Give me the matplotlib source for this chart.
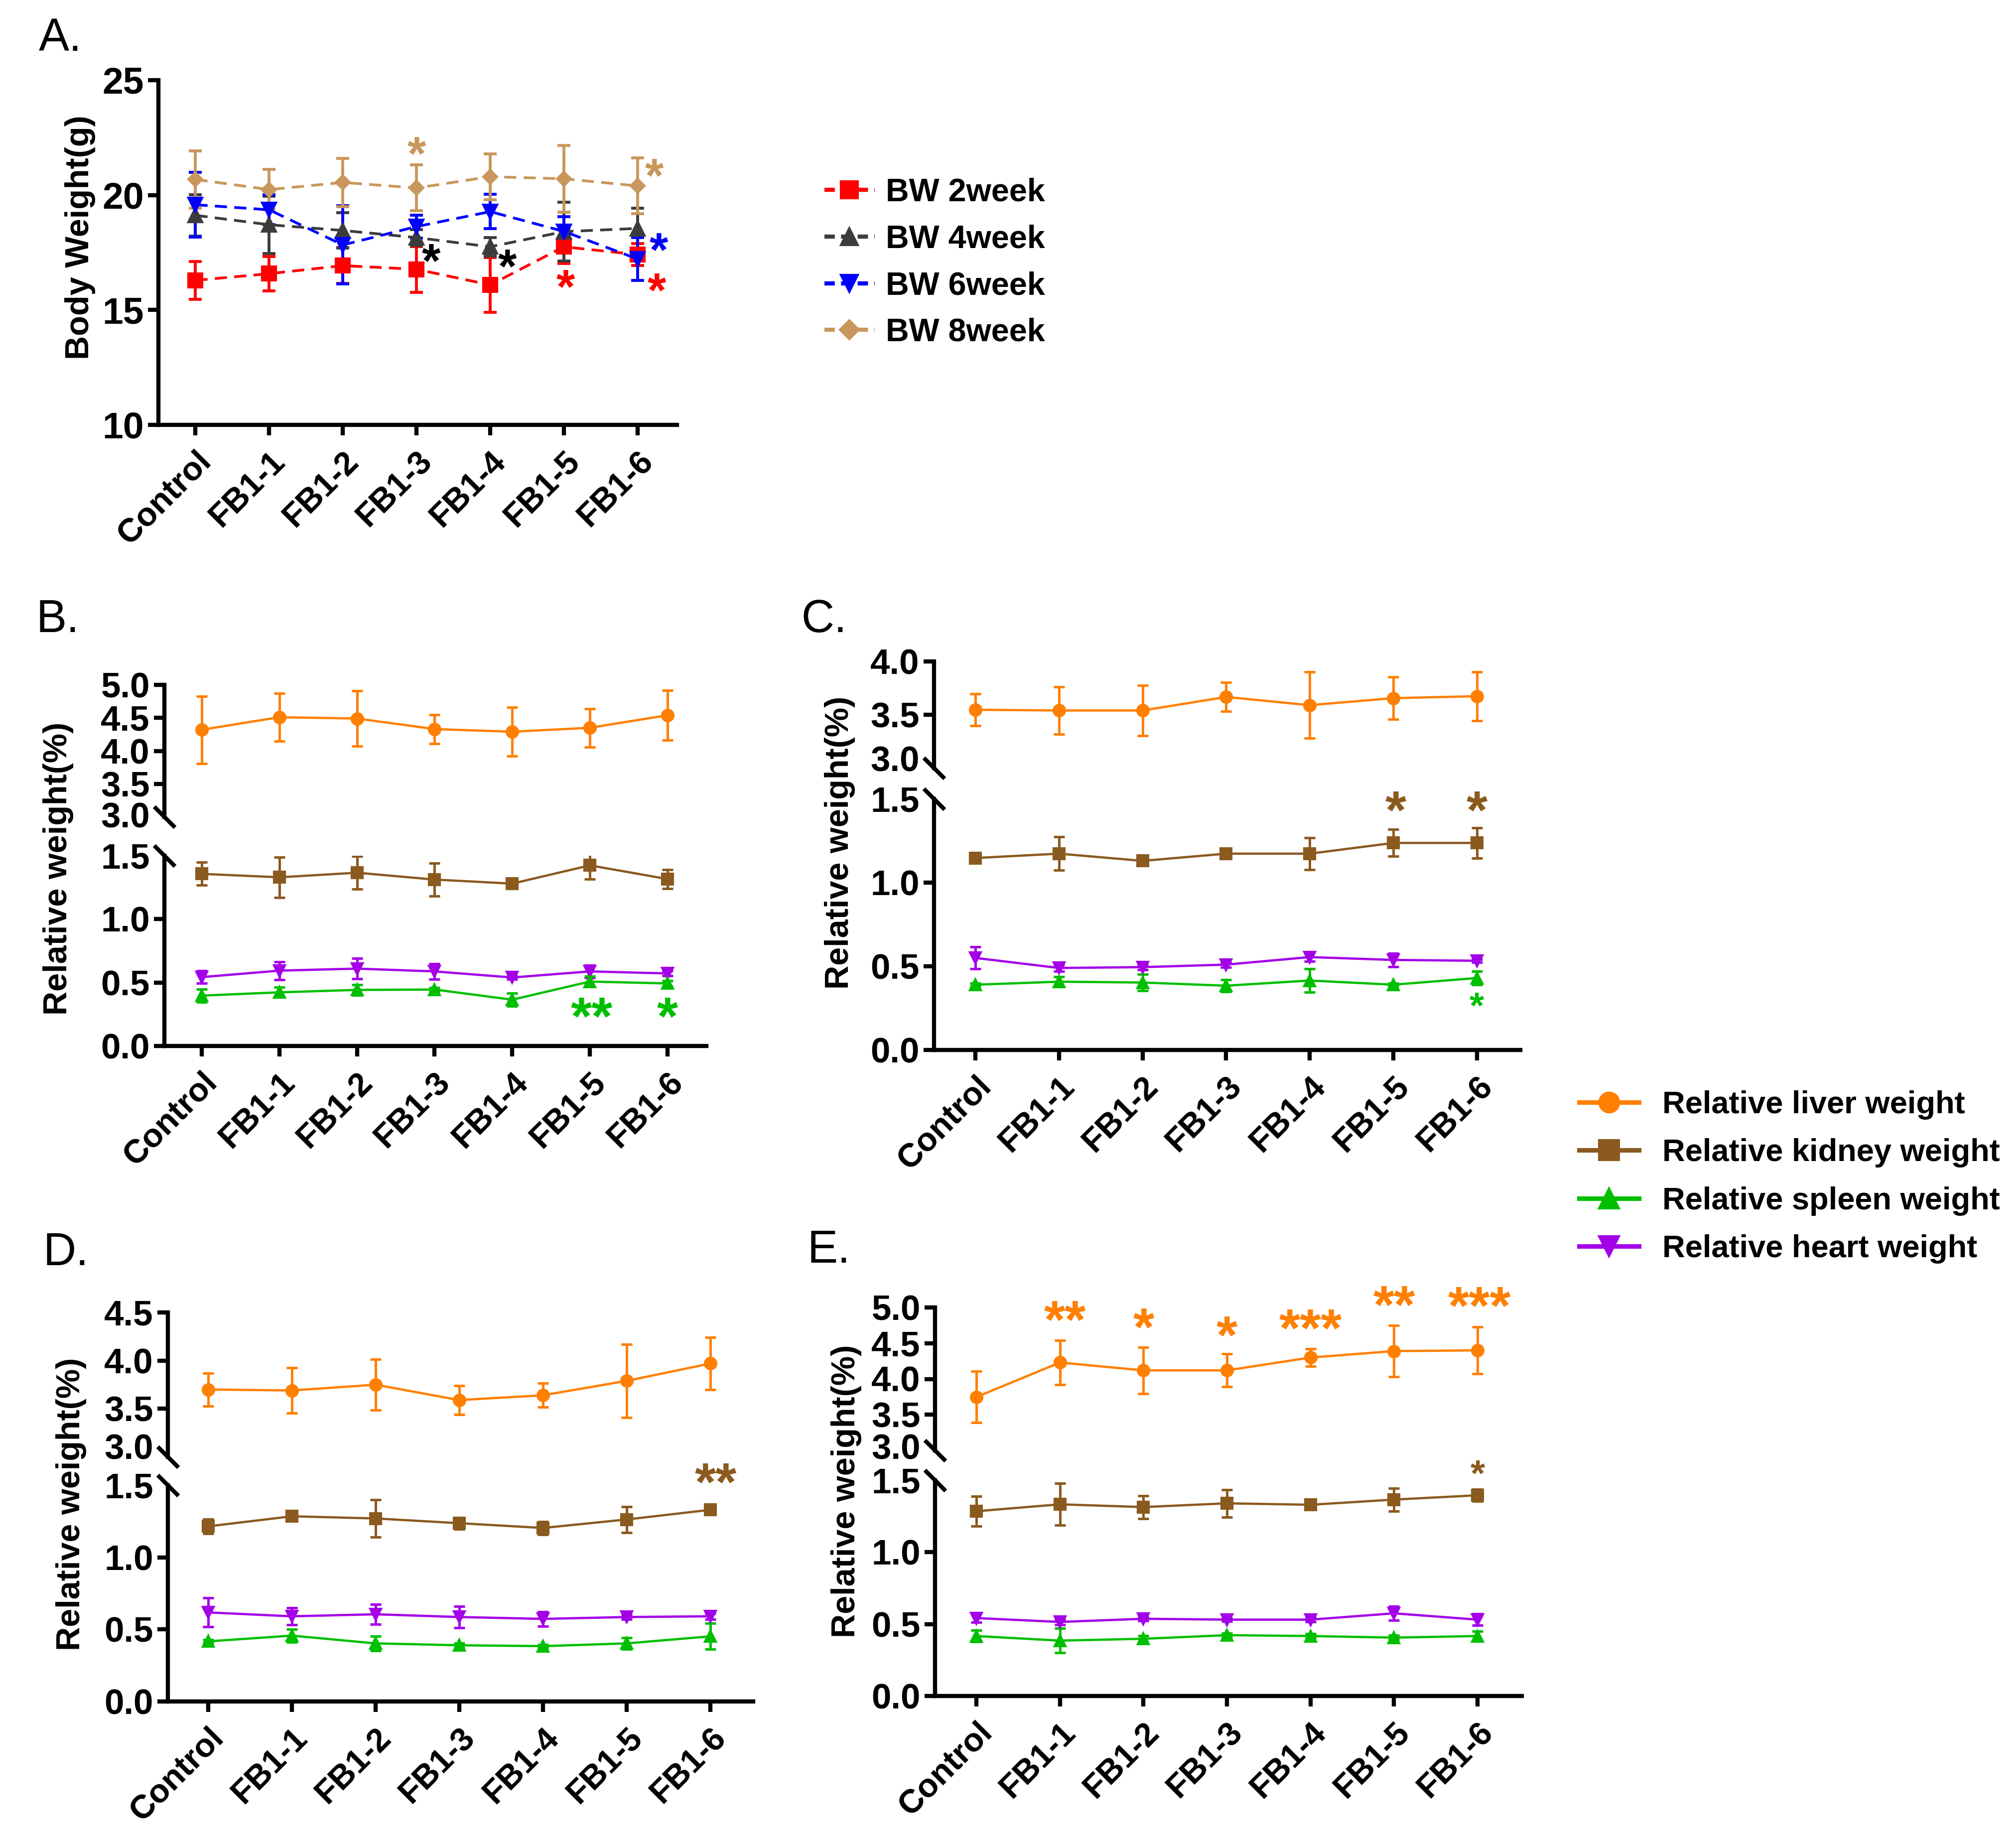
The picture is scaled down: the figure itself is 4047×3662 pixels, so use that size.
import matplotlib.pyplot as plt
from matplotlib.lines import Line2D
from matplotlib.transforms import ScaledTranslation

plt.rcParams['font.family'] = ['Liberation Sans', 'DejaVu Sans']
plt.rcParams['font.weight'] = 'bold'
plt.rcParams['axes.linewidth'] = 2.0

W, H, DPI = 4047, 3662, 300

groups = ['Control', 'FB1-1', 'FB1-2', 'FB1-3', 'FB1-4', 'FB1-5', 'FB1-6']

# A. body weight (g), mean and SEM
bw2 = [16.29, 16.58, 16.93, 16.77, 16.09, 17.75, 17.41]
bw2_err = [0.83, 0.75, 0.78, 1.0, 1.2, 0.72, 0.48]
bw4 = [19.12, 18.71, 18.46, 18.15, 17.75, 18.41, 18.55]
bw4_err = [0.9, 1.25, 0.77, 0.35, 0.4, 1.28, 0.88]
bw6 = [19.58, 19.36, 17.83, 18.63, 19.28, 18.42, 17.22]
bw6_err = [1.4, 0.65, 1.7, 0.5, 0.75, 0.65, 0.93]
bw8 = [20.68, 20.24, 20.55, 20.31, 20.8, 20.71, 20.4]
bw8_err = [1.25, 0.88, 1.05, 1.0, 1.0, 1.45, 1.22]

# B.
b_liver = [4.32, 4.51, 4.49, 4.33, 4.29, 4.35, 4.54]
b_liver_err = [0.51, 0.36, 0.42, 0.22, 0.37, 0.29, 0.38]
b_kidney = [1.357, 1.33, 1.366, 1.312, 1.28, 1.424, 1.316]
b_kidney_err = [0.09, 0.16, 0.13, 0.13, 0.04, 0.11, 0.075]
b_spleen = [0.397, 0.423, 0.442, 0.445, 0.365, 0.508, 0.493]
b_spleen_err = [0.05, 0.04, 0.04, 0.015, 0.05, 0.04, 0.02]
b_heart = [0.543, 0.594, 0.61, 0.588, 0.54, 0.588, 0.572]
b_heart_err = [0.05, 0.07, 0.08, 0.06, 0.015, 0.05, 0.02]

# C.
c_liver = [3.547, 3.54, 3.54, 3.667, 3.59, 3.656, 3.674]
c_liver_err = [0.15, 0.22, 0.235, 0.135, 0.31, 0.2, 0.23]
c_kidney = [1.147, 1.173, 1.13, 1.173, 1.173, 1.237, 1.237]
c_kidney_err = [0.015, 0.1, 0.02, 0.02, 0.095, 0.08, 0.09]
c_spleen = [0.39, 0.408, 0.403, 0.384, 0.415, 0.39, 0.43]
c_spleen_err = [0.01, 0.03, 0.05, 0.035, 0.07, 0.01, 0.04]
c_heart = [0.55, 0.49, 0.495, 0.51, 0.555, 0.538, 0.533]
c_heart_err = [0.065, 0.02, 0.015, 0.015, 0.025, 0.04, 0.01]

# D.
d_liver = [3.70, 3.69, 3.75, 3.59, 3.64, 3.79, 3.97]
d_liver_err = [0.17, 0.235, 0.265, 0.15, 0.125, 0.38, 0.27]
d_kidney = [1.215, 1.285, 1.27, 1.237, 1.204, 1.263, 1.33]
d_kidney_err = [0.05, 0.03, 0.13, 0.04, 0.045, 0.09, 0.02]
d_spleen = [0.417, 0.457, 0.403, 0.39, 0.384, 0.403, 0.452]
d_spleen_err = [0.01, 0.045, 0.05, 0.015, 0.01, 0.04, 0.09]
d_heart = [0.618, 0.591, 0.605, 0.586, 0.573, 0.586, 0.591]
d_heart_err = [0.1, 0.06, 0.07, 0.075, 0.05, 0.015, 0.02]

# E.
e_liver = [3.747, 4.23, 4.12, 4.12, 4.30, 4.39, 4.40]
e_liver_err = [0.36, 0.31, 0.325, 0.23, 0.125, 0.36, 0.33]
e_kidney = [1.285, 1.333, 1.314, 1.34, 1.33, 1.366, 1.396]
e_kidney_err = [0.105, 0.145, 0.08, 0.095, 0.02, 0.08, 0.04]
e_spleen = [0.417, 0.385, 0.398, 0.423, 0.417, 0.406, 0.417]
e_spleen_err = [0.04, 0.085, 0.02, 0.015, 0.015, 0.015, 0.035]
e_heart = [0.542, 0.515, 0.537, 0.531, 0.531, 0.575, 0.531]
e_heart_err = [0.03, 0.02, 0.015, 0.01, 0.015, 0.05, 0.04]

# significance marks: (group position, y, text)
a_stars_bw2 = [(5.02, 16.25, '*'), (6.26, 16.1, '*')]
a_stars_bw4 = [(3.2, 17.38, '*'), (4.23, 17.14, '*')]
a_stars_bw6 = [(6.29, 17.86, '*')]
a_stars_bw8 = [(3.0, 22.04, '*'), (6.23, 21.08, '*')]
b_stars_spleen = [(5.02, 0.276, '**'), (6.0, 0.276, '*')]
c_stars_kidney = [(5.03, 1.467, '*'), (6.0, 1.467, '*')]
c_stars_spleen = [(6.0, 0.29, '*')]
d_stars_kidney = [(6.06, 1.56, '**')]
e_stars_liver = [(1.06, 4.91, '**'), (2.0, 4.80, '*'), (3.0, 4.69, '*'),
                 (4.0, 4.79, '***'), (5.0, 5.12, '**'), (6.02, 5.10, '***')]
e_stars_kidney = [(6.0, 1.577, '*')]

RED, DARK, BLUE, TAN = '#FF0000', '#3C3C3C', '#0000FF', '#C9975B'
ORANGE, BROWN, GREEN, PURPLE = '#FF7F00', '#8B5A1F', '#00BF00', '#A400E8'

fig = plt.figure(figsize=(W / DPI, H / DPI), dpi=DPI)


def box(left, right, top, bottom):
    # reference pixels -> figure fraction
    return [left / W, 1 - bottom / H, (right - left) / W, (bottom - top) / H]


def base_style(ax, ysize=17):
    ax.spines['top'].set_visible(False)
    ax.spines['right'].set_visible(False)
    ax.tick_params(direction='out', length=5, width=2, labelsize=ysize, pad=2)
    ax.set_facecolor('none')


def group_axis(ax, xlim):
    ax.set_xlim(xlim)
    ax.set_xticks(range(len(groups)))
    ax.set_xticklabels(groups, rotation=45, ha='right', va='top',
                       rotation_mode='anchor', fontsize=16)
    ax.tick_params(axis='x', pad=5)


def stars(ax, marks, color, size):
    for x, y, s in marks:
        ax.annotate(s, (x, y), xytext=(0, -0.44 * size), textcoords='offset points',
                    ha='center', va='baseline', fontsize=size, color=color,
                    annotation_clip=False)


x = list(range(len(groups)))

# ---- A ----
ax = fig.add_axes(box(318, 1359, 161, 853))
base_style(ax, 18)
series_a = [(bw2, bw2_err, RED, 's', 6.5), (bw4, bw4_err, DARK, '^', 6.5),
            (bw6, bw6_err, BLUE, 'v', 6.5), (bw8, bw8_err, TAN, 'D', 4.8)]
for y, e, c, m, ms in series_a:
    ax.errorbar(x, y, yerr=e, color=c, marker=m, ms=ms, lw=1.3, ls='--',
                dashes=(4.5, 2.7), elinewidth=1.4, capsize=3.2, capthick=1.4)
ax.set_ylim(10, 25)
ax.set_yticks([10, 15, 20, 25])
group_axis(ax, (-0.503, 6.535))
stars(ax, a_stars_bw2, RED, 23)
stars(ax, a_stars_bw4, 'black', 23)
stars(ax, a_stars_bw6, BLUE, 23)
stars(ax, a_stars_bw8, TAN, 23)
fig.text(161 / W, 1 - 477 / H, 'Body Weight(g)', rotation=90, ha='center', va='center',
         fontsize=16)

handles_a = [Line2D([], [], color=c, ls='--', dashes=(2.5, 1.5), lw=2, marker=m, ms=ms + 1.5)
             for _, _, c, m, ms in series_a]
fig.legend(handles_a, ['BW 2week', 'BW 4week', 'BW 6week', 'BW 8week'],
           loc='upper left', bbox_to_anchor=(1655 / W, 1 - 357 / H), frameon=False,
           borderpad=0, borderaxespad=0, handlelength=1.56, handletextpad=0.34,
           labelspacing=0.52, fontsize=15.5)


# ---- B to E ----
def organ_panel(px, xlim, up_lim, up_ticks, lo_ticks, lift_pt, liver, liver_err,
                kidney, kidney_err, spleen, spleen_err, heart, heart_err):
    left, right, up_top, up_bot, lo_top, lo_bot = px
    ax_up = fig.add_axes(box(left, right, up_top, up_bot))
    ax_lo = fig.add_axes(box(left, right, lo_top, lo_bot))
    for a in (ax_up, ax_lo):
        base_style(a)
        a.set_xlim(xlim)
    kw = dict(lw=1.1, elinewidth=1.2, capsize=2.6, capthick=1.2, ms=5.5)
    ax_up.errorbar(x, liver, yerr=liver_err, color=ORANGE, marker='o', **kw)
    ax_lo.errorbar(x, kidney, yerr=kidney_err, color=BROWN, marker='s', **kw)
    ax_lo.errorbar(x, heart, yerr=heart_err, color=PURPLE, marker='v', **kw)
    ax_lo.errorbar(x, spleen, yerr=spleen_err, color=GREEN, marker='^', **kw)

    ax_up.set_ylim(up_lim)
    ax_up.set_yticks(up_ticks[1:])
    ax_up.set_yticks(up_ticks[:1], minor=True)
    ax_up.set_yticklabels([f'{t:.1f}' for t in up_ticks[1:]])
    ax_up.set_yticklabels([f'{up_ticks[0]:.1f}'], minor=True)
    ax_up.spines['bottom'].set_visible(False)
    ax_up.tick_params(axis='x', bottom=False, labelbottom=False)

    ax_lo.set_ylim(0, lo_ticks[-1])
    ax_lo.set_yticks(lo_ticks[:-1])
    ax_lo.set_yticks(lo_ticks[-1:], minor=True)
    ax_lo.set_yticklabels([f'{t:.1f}' for t in lo_ticks[:-1]])
    ax_lo.set_yticklabels([f'{lo_ticks[-1]:.1f}'], minor=True)
    for a in (ax_up, ax_lo):
        a.tick_params(axis='y', which='minor', length=0, pad=7, labelsize=17)
    # the label at the break sits a little above the end of the upper spine
    lift = ScaledTranslation(0, lift_pt / 72, fig.dpi_scale_trans)
    for lab in ax_up.get_yticklabels(minor=True):
        lab.set_transform(lab.get_transform() + lift)
    group_axis(ax_lo, xlim)

    brk = dict(marker=[(-1, 1), (1, -1)], markersize=10, linestyle='none', color='k',
               mec='k', mew=2, clip_on=False)
    ax_up.plot([0], [0], transform=ax_up.transAxes, **brk)
    ax_lo.plot([0], [1], transform=ax_lo.transAxes, **brk)
    return ax_up, ax_lo


lo_ticks = [0.0, 0.5, 1.0, 1.5]

bu, bl = organ_panel((330, 1418, 1375, 1640, 1718, 2100), (-0.48, 6.5), (3.0, 5.0),
                     [3.0, 3.5, 4.0, 4.5, 5.0], lo_ticks, 1.0,
                     b_liver, b_liver_err, b_kidney, b_kidney_err,
                     b_spleen, b_spleen_err, b_heart, b_heart_err)
stars(bl, b_stars_spleen, GREEN, 26)

cu, cl = organ_panel((1875, 3052, 1328, 1542, 1604, 2108), (-0.495, 6.52), (3.0, 4.0),
                     [3.0, 3.5, 4.0], lo_ticks, 4.5,
                     c_liver, c_liver_err, c_kidney, c_kidney_err,
                     c_spleen, c_spleen_err, c_heart, c_heart_err)
stars(cl, c_stars_kidney, BROWN, 26)
stars(cl, c_stars_spleen, GREEN, 18)

du, dl = organ_panel((337, 1512, 2635, 2925, 2982, 3416), (-0.48, 6.51), (3.0, 4.5),
                     [3.0, 3.5, 4.0, 4.5], lo_ticks, 5.0,
                     d_liver, d_liver_err, d_kidney, d_kidney_err,
                     d_spleen, d_spleen_err, d_heart, d_heart_err)
stars(dl, d_stars_kidney, BROWN, 26)

eu, el = organ_panel((1877, 3055, 2625, 2912, 2972, 3405), (-0.495, 6.53), (3.0, 5.0),
                     [3.0, 3.5, 4.0, 4.5, 5.0], lo_ticks, 2.0,
                     e_liver, e_liver_err, e_kidney, e_kidney_err,
                     e_spleen, e_spleen_err, e_heart, e_heart_err)
stars(eu, e_stars_liver, ORANGE, 26)
stars(el, e_stars_kidney, BROWN, 18)

for xp, yp in [(117, 1744), (1686, 1692), (143, 3020), (1699, 2994)]:
    fig.text(xp / W, 1 - yp / H, 'Relative weight(%)', rotation=90, ha='center',
             va='center', fontsize=16)

handles_o = [Line2D([], [], color=ORANGE, lw=2.2, marker='o', ms=9.5),
             Line2D([], [], color=BROWN, lw=2.2, marker='s', ms=9.5),
             Line2D([], [], color=GREEN, lw=2.2, marker='^', ms=9.5),
             Line2D([], [], color=PURPLE, lw=2.2, marker='v', ms=9.5)]
fig.legend(handles_o, ['Relative liver weight', 'Relative kidney weight',
                       'Relative spleen weight', 'Relative heart weight'],
           loc='upper left', bbox_to_anchor=(3170 / W, 1 - 2189 / H), frameon=False,
           borderpad=0, borderaxespad=0, handlelength=1.9, handletextpad=0.74,
           labelspacing=0.59, fontsize=15.2)

for lab, xp, yp in [('A.', 78, 78), ('B.', 73, 1245), ('C.', 1608, 1245),
                    ('D.', 86, 2516), ('E.', 1621, 2511)]:
    fig.text(xp / W, 1 - yp / H, lab, fontsize=22, fontweight='normal', ha='left', va='center')

fig.savefig('out.png', dpi=DPI)
